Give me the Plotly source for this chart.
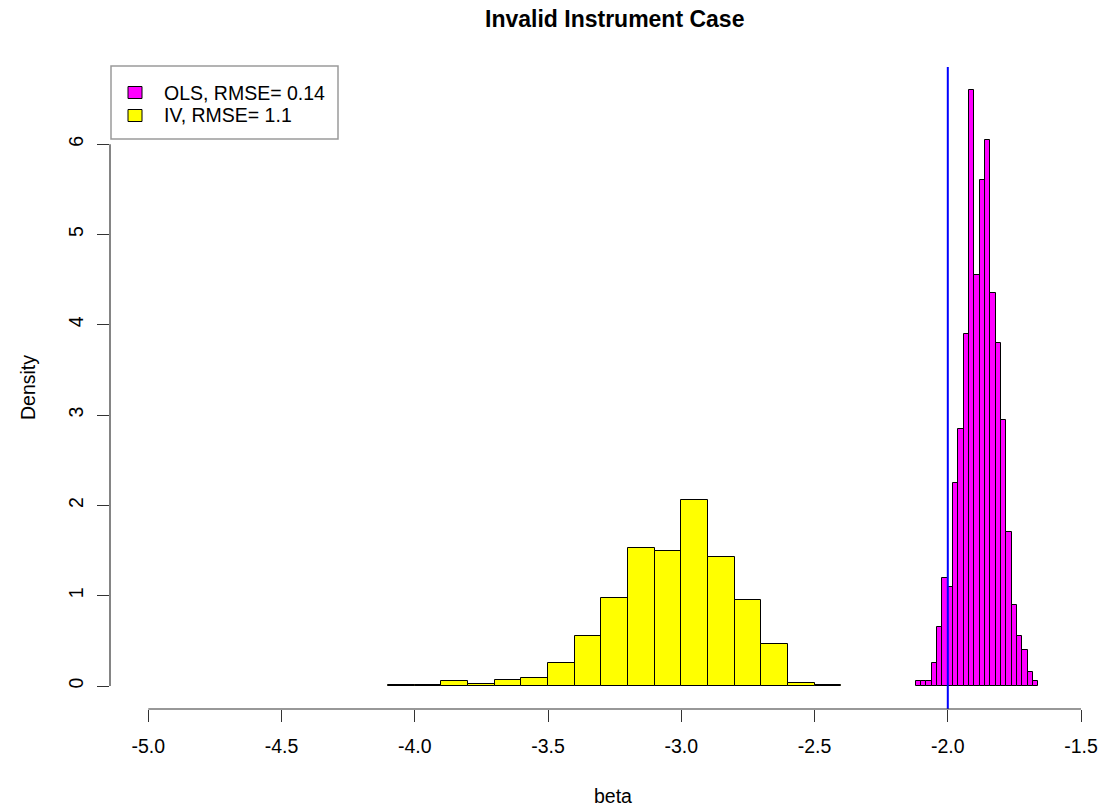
import plotly.graph_objects as go

# ---- data (density histograms) ----
ols_breaks = [-2.12, -2.10, -2.08, -2.06, -2.04, -2.02, -2.00, -1.98, -1.96, -1.94, -1.92, -1.90,
              -1.88, -1.86, -1.84, -1.82, -1.80, -1.78, -1.76, -1.74, -1.72, -1.70, -1.68, -1.66]
ols_density = [0.05, 0.05, 0.05, 0.25, 0.65, 1.20, 1.10, 2.25, 2.85, 3.90, 6.60, 4.55,
               5.60, 6.05, 4.35, 3.80, 2.95, 1.70, 0.90, 0.55, 0.40, 0.15, 0.05]

iv_breaks = [-4.1, -4.0, -3.9, -3.8, -3.7, -3.6, -3.5, -3.4, -3.3, -3.2, -3.1, -3.0,
             -2.9, -2.8, -2.7, -2.6, -2.5, -2.4]
iv_density = [0.01, 0.01, 0.05, 0.02, 0.07, 0.09, 0.26, 0.55, 0.97, 1.53, 1.49, 2.06,
              1.43, 0.95, 0.47, 0.03, 0.01]

true_beta = -2.0
x_ticks = [-5.0, -4.5, -4.0, -3.5, -3.0, -2.5, -2.0, -1.5]
x_tick_labels = ["-5.0", "-4.5", "-4.0", "-3.5", "-3.0", "-2.5", "-2.0", "-1.5"]
y_ticks = [0, 1, 2, 3, 4, 5, 6]
legend_labels = ["OLS, RMSE= 0.14", "IV, RMSE= 1.1"]
colors = ["#FF00FF", "#FFFF00"]

FONT = "Liberation Sans, Arial, Helvetica, sans-serif"
FS = 19.5

# ---- page geometry (pixels) ----
L, T, R_, B = 110, 67, 1104, 709
PW, PH = R_ - L, B - T


def px(x):
    return (x - L) / PW


def py(y):
    return (B - y) / PH


def centers(br):
    return [(br[i] + br[i + 1]) / 2 for i in range(len(br) - 1)]


def widths(br):
    return [br[i + 1] - br[i] for i in range(len(br) - 1)]


fig = go.Figure()
fig.add_trace(go.Bar(x=centers(iv_breaks), y=iv_density, width=widths(iv_breaks),
                     marker=dict(color=colors[1], line=dict(color="#000000", width=1)),
                     showlegend=False, hoverinfo="skip"))
fig.add_trace(go.Bar(x=centers(ols_breaks), y=ols_density, width=widths(ols_breaks),
                     marker=dict(color=colors[0], line=dict(color="#000000", width=1)),
                     showlegend=False, hoverinfo="skip"))

shapes = []
# true beta line
shapes.append(dict(type="line", xref="x", yref="paper", x0=true_beta, x1=true_beta, y0=0, y1=1,
                   line=dict(color="#0000FF", width=2), layer="above"))
# R-style axis lines spanning first to last tick
shapes.append(dict(type="line", xref="x", yref="paper", x0=x_ticks[0], x1=x_ticks[-1], y0=0, y1=0,
                   line=dict(color="#333333", width=1.2)))
shapes.append(dict(type="line", xref="paper", yref="y", x0=0, x1=0, y0=y_ticks[0], y1=y_ticks[-1],
                   line=dict(color="#333333", width=1.2)))
# legend box
shapes.append(dict(type="rect", xref="paper", yref="paper", x0=px(111), x1=px(338), y0=py(139), y1=py(66),
                   line=dict(color="#9a9a9a", width=1.5), fillcolor="white", layer="above"))
rows_y = [92.5, 115.5]
annotations = []
for lab, col, ry in zip(legend_labels, colors, rows_y):
    shapes.append(dict(type="rect", xref="paper", yref="paper", x0=px(128), x1=px(142),
                       y0=py(ry + 6), y1=py(ry - 6), fillcolor=col,
                       line=dict(color="#000000", width=1), layer="above"))
    annotations.append(dict(x=px(162), y=py(ry), xref="paper", yref="paper", text=lab,
                            showarrow=False, xanchor="left", yanchor="middle",
                            font=dict(family=FONT, size=FS, color="#000000")))

annotations.append(dict(x=px(614), y=py(19), xref="paper", yref="paper",
                        text="<b>Invalid Instrument Case</b>", showarrow=False,
                        xanchor="center", yanchor="middle",
                        font=dict(family=FONT, size=23, color="#000000")))
annotations.append(dict(x=px(613), y=py(796), xref="paper", yref="paper", text="beta",
                        showarrow=False, xanchor="center", yanchor="middle",
                        font=dict(family=FONT, size=FS, color="#000000")))
annotations.append(dict(x=px(28), y=py(388), xref="paper", yref="paper", text="Density",
                        showarrow=False, xanchor="center", yanchor="middle", textangle=-90,
                        font=dict(family=FONT, size=FS, color="#000000")))

x0 = x_ticks[0] - (148.3 - L) / 266.5
x1 = x0 + PW / 266.5
y0 = -(B - 686) / 90.3
y1 = (686 - T) / 90.3

fig.update_layout(
    width=1104, height=807,
    margin=dict(l=L, r=1104 - R_, t=T, b=807 - B, pad=0),
    paper_bgcolor="white", plot_bgcolor="white",
    barmode="overlay", bargap=0,
    shapes=shapes, annotations=annotations,
    showlegend=False,
    xaxis=dict(range=[x0, x1], tickvals=x_ticks, ticktext=x_tick_labels, showgrid=False,
               zeroline=False, showline=False, ticks="outside", ticklen=12, tickwidth=1.2,
               tickcolor="#333333", tickfont=dict(family=FONT, size=FS, color="#000000"),
               ticklabelstandoff=8, fixedrange=True),
    yaxis=dict(range=[y0, y1], tickvals=y_ticks, showgrid=False, zeroline=False, showline=False,
               ticks="outside", ticklen=12, tickwidth=1.2, tickcolor="#333333", tickangle=-90,
               tickfont=dict(family=FONT, size=FS, color="#000000"), ticklabelstandoff=6,
               fixedrange=True),
)

fig.write_html("out.html", config={"displayModeBar": False})
